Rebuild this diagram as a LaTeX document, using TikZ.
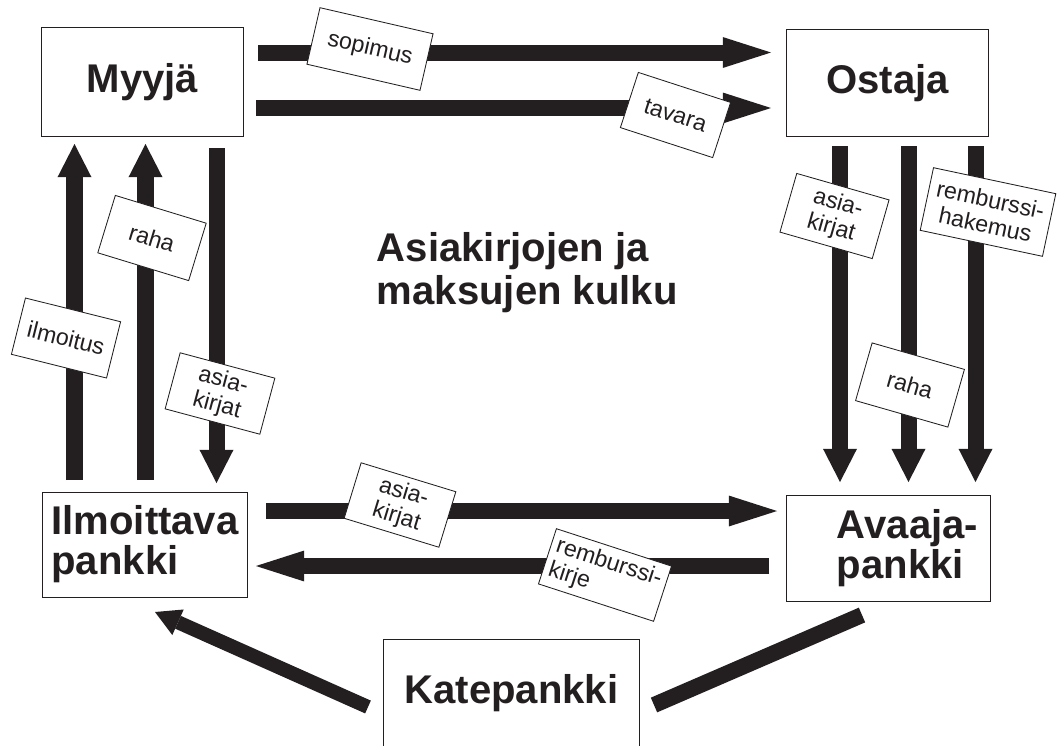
\documentclass[tikz,border=0pt]{standalone}
\usepackage{fontspec}
\setmainfont{Liberation Sans}
\usetikzlibrary{arrows.meta}
\definecolor{ink}{HTML}{231F20}

\begin{document}
\begin{tikzpicture}[
x=0.025cm,y=-0.025cm,
box/.style={draw=ink,line width=0.7pt,fill=white,inner sep=0pt,text=ink,
  font=\bfseries\fontsize{28.5}{28.5}\selectfont},
tag/.style={draw=ink,line width=0.6pt,fill=white,inner sep=0pt,text=ink,
  font=\fontsize{16.5}{18}\selectfont},
flow/.style={draw=ink,line width=0.4cm},
longtip/.style={-{Triangle[length=1.2cm,width=0.77cm,line width=0pt]}},
shorttip/.style={-{Triangle[length=0.83cm,width=0.85cm,line width=0pt]}}
]

\useasboundingbox (0,0) rectangle (1059,745);
\clip (0,0) rectangle (1059,745);

% Osapuolet
\node[box,minimum width=5.025cm,minimum height=2.7cm]
(myyja) at (142.5,82)
{Myyjä};

\node[box,minimum width=5.025cm,minimum height=2.65cm]
(ostaja) at (887.5,83)
{Ostaja};

\node[box,align=left,minimum width=5.1cm,minimum height=2.625cm]
(ilmoittava) at (145,544.5)
{Ilmoittava\\pankki};

\node[box,align=left,text width=5.075cm,minimum height=2.65cm]
(avaaja) at (888.5,548)
{\hspace*{1.25cm}Avaaja-\\\hspace*{1.25cm}pankki};

\node[box,minimum width=6.375cm,minimum height=2.725cm]
(kate) at (511.5,693.5)
{Katepankki};

\node[anchor=west,align=left,text=ink,
  font=\bfseries\fontsize{28.5}{30.5}\selectfont]
(otsikko) at (372,273)
{Asiakirjojen ja\\maksujen kulku};

% Nuolten päät
\coordinate (sopA) at (258,52.5);
\coordinate (sopB) at (771,52.5);
\coordinate (tavA) at (256,108);
\coordinate (tavB) at (771,108);
\coordinate (ilmA) at (74.5,480);
\coordinate (ilmB) at (74.5,144);
\coordinate (rahaA) at (145.5,480);
\coordinate (rahaB) at (145.5,144);
\coordinate (asiaA) at (216.5,148);
\coordinate (asiaB) at (216.5,483);
\coordinate (asia2A) at (840,146);
\coordinate (asia2B) at (840,482);
\coordinate (raha2A) at (908.5,146);
\coordinate (raha2B) at (908.5,482);
\coordinate (hakA) at (975.5,146);
\coordinate (hakB) at (975.5,482);
\coordinate (asia3A) at (266,511);
\coordinate (asia3B) at (777,511);
\coordinate (kirjeA) at (769,566);
\coordinate (kirjeB) at (256,566);
\coordinate (kateA) at (368,707);
\coordinate (kateB) at (155,612);
\coordinate (kateC) at (654,705);
\coordinate (kateD) at (862,615);

% Myyjä -> Ostaja
\draw[flow,longtip]
(sopA)
--
(sopB);

\draw[flow,longtip]
(tavA)
--
(tavB);

% Myyjä <-> Ilmoittava pankki
\draw[flow,shorttip]
(ilmA)
--
(ilmB);

\draw[flow,shorttip]
(rahaA)
--
(rahaB);

\draw[flow,shorttip]
(asiaA)
--
(asiaB);

% Ostaja -> Avaajapankki
\draw[flow,shorttip]
(asia2A)
--
(asia2B);

\draw[flow,shorttip]
(raha2A)
--
(raha2B);

\draw[flow,shorttip]
(hakA)
--
(hakB);

% Pankkien välillä
\draw[flow,longtip]
(asia3A)
--
(asia3B);

\draw[flow,longtip]
(kirjeA)
--
(kirjeB);

\draw[draw=ink,line width=0.35cm,
  -{Triangle[length=0.63cm,width=0.7cm,line width=0pt]}]
(kateA)
--
(kateB);

\draw[flow]
(kateC)
--
(kateD);

% Laput
\node[tag,rotate=-13,minimum width=2.9cm,minimum height=1.45cm]
(sopimus) at (370,49)
{sopimus};

\node[tag,rotate=-18,minimum width=2.425cm,minimum height=1.45cm]
(tavara) at (675.5,115)
{tavara};

\node[tag,rotate=-17,minimum width=2.375cm,minimum height=1.5cm]
(raha) at (152,238)
{raha};

\node[tag,rotate=-14,minimum width=2.45cm,minimum height=1.45cm]
(ilmoitus) at (66,338)
{ilmoitus};

\node[tag,align=center,rotate=-15,minimum width=2.45cm,minimum height=1.45cm]
(asiakirjat) at (220,393.5)
{asia-\\kirjat};

\node[tag,align=center,rotate=-16,minimum width=2.4cm,minimum height=1.525cm]
(asiakirjat2) at (834.5,216)
{asia-\\kirjat};

\node[tag,align=center,rotate=-12,minimum width=3.125cm,minimum height=1.6cm]
(hakemus) at (988,212)
{remburssi-\\hakemus};

\node[tag,rotate=-16,minimum width=2.4cm,minimum height=1.5cm]
(raha2) at (910,385)
{raha};

\node[tag,align=center,rotate=-17,minimum width=2.475cm,minimum height=1.45cm]
(asiakirjat3) at (400,505)
{asia-\\kirjat};

\node[tag,align=left,rotate=-18,minimum width=3.025cm,minimum height=1.45cm]
(kirje) at (605,575)
{remburssi-\\kirje};

\end{tikzpicture}
\end{document}
